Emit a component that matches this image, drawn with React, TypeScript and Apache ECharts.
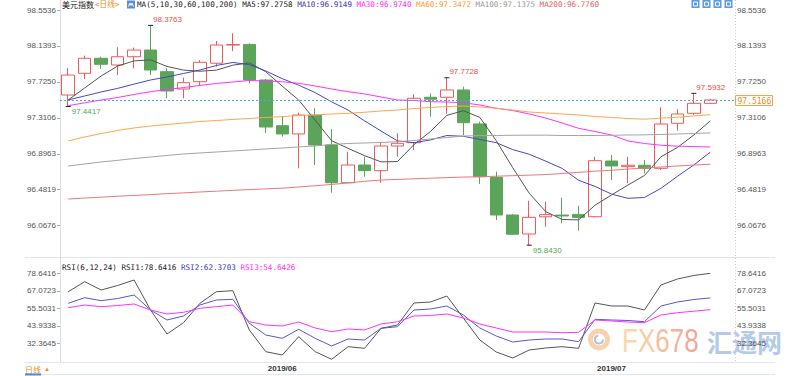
import React, { useEffect, useRef } from 'react';
import * as echarts from 'echarts';

const dates = [
  '2019/05/15', '2019/05/16', '2019/05/17', '2019/05/20', '2019/05/21', '2019/05/22', '2019/05/23', '2019/05/24',
  '2019/05/27', '2019/05/28', '2019/05/29', '2019/05/30', '2019/05/31',
  '2019/06/03', '2019/06/04', '2019/06/05', '2019/06/06', '2019/06/07', '2019/06/10', '2019/06/11', '2019/06/12',
  '2019/06/13', '2019/06/14', '2019/06/17', '2019/06/18', '2019/06/19', '2019/06/20', '2019/06/21', '2019/06/24',
  '2019/06/25', '2019/06/26', '2019/06/27', '2019/06/28',
  '2019/07/01', '2019/07/02', '2019/07/03', '2019/07/04', '2019/07/05', '2019/07/08', '2019/07/09',
  '',
];

const opens = [97.574, 97.824, 97.997, 97.92, 98.015, 98.092, 97.843, 97.643, 97.727, 97.94,
  98.15, 98.157, 97.747, 97.22, 97.125, 97.343, 96.998, 96.563, 96.767, 96.702,
  96.986, 97.024, 97.548, 97.548, 97.632, 97.24, 96.625, 96.191, 95.972, 96.17,
  96.19, 96.198, 96.171, 96.813, 96.748, 96.764, 96.729, 97.248, 97.363, 97.478];
const closes = [97.804, 97.997, 97.928, 98.015, 98.092, 97.862, 97.62, 97.716, 97.951, 98.15,
  98.155, 97.747, 97.205, 97.125, 97.343, 96.998, 96.563, 96.767, 96.702, 96.986,
  97.017, 97.536, 97.525, 97.632, 97.255, 96.632, 96.191, 95.969, 96.164, 96.195,
  96.18, 96.163, 96.817, 96.756, 96.764, 96.729, 97.24, 97.355, 97.478, 97.5166];
const lows = [97.4417, 97.758, 97.874, 97.804, 97.882, 97.804, 97.536, 97.536, 97.69, 97.9,
  98.08, 97.709, 97.136, 97.094, 96.729, 96.767, 96.448, 96.563, 96.632, 96.563,
  96.863, 96.94, 97.324, 97.36, 97.113, 96.548, 96.133, 95.96, 95.843, 96.056,
  96.095, 96.01, 96.164, 96.594, 96.556, 96.671, 96.71, 97.163, 97.344, 97.47];
const highs = [97.885, 98.027, 98.015, 98.124, 98.12, 98.3763, 97.882, 97.774, 97.977, 98.196,
  98.285, 98.17, 97.76, 97.332, 97.37, 97.42, 97.18, 96.92, 96.863, 97.024,
  97.133, 97.582, 97.594, 97.7728, 97.67, 97.267, 96.69, 96.2, 96.356, 96.344,
  96.39, 96.295, 96.863, 96.882, 96.863, 96.825, 97.432, 97.41, 97.5932, 97.53];

const ma5 = [97.517, 97.655, 97.793, 97.908, 97.967, 97.979, 97.903, 97.861, 97.848, 97.86,
  97.918, 97.944, 97.842, 97.676, 97.515, 97.284, 97.047, 96.959, 96.875, 96.803,
  96.807, 97.002, 97.153, 97.339, 97.393, 97.316, 97.047, 96.736, 96.442, 96.23,
  96.14, 96.134, 96.304, 96.422, 96.536, 96.646, 96.861, 96.969, 97.113, 97.2758];
const ma10 = [97.517, 97.563, 97.609, 97.65, 97.7, 97.747, 97.782, 97.822, 97.862, 97.914,
  97.949, 97.924, 97.851, 97.762, 97.687, 97.601, 97.495, 97.4, 97.276, 97.159,
  97.045, 97.024, 97.056, 97.107, 97.098, 97.062, 97.024, 96.945, 96.891, 96.812,
  96.728, 96.591, 96.52, 96.432, 96.383, 96.393, 96.498, 96.636, 96.768, 96.9149];
const ma30 = [97.451, 97.484, 97.516, 97.545, 97.58, 97.612, 97.637, 97.66, 97.684, 97.707,
  97.724, 97.741, 97.735, 97.727, 97.709, 97.678, 97.643, 97.612, 97.586, 97.551,
  97.516, 97.511, 97.497, 97.493, 97.485, 97.459, 97.421, 97.395, 97.355, 97.309,
  97.251, 97.19, 97.153, 97.113, 97.044, 97.015, 96.995, 96.985, 96.979, 96.974];
const ma60 = [97.044, 97.09, 97.13, 97.165, 97.194, 97.217, 97.234, 97.251, 97.269, 97.28,
  97.292, 97.303, 97.315, 97.324, 97.338, 97.344, 97.355, 97.363, 97.375, 97.39,
  97.401, 97.418, 97.43, 97.441, 97.447, 97.436, 97.421, 97.401, 97.378, 97.367,
  97.355, 97.344, 97.326, 97.315, 97.303, 97.295, 97.307, 97.317, 97.332, 97.3472];
const ma100 = [96.756, 96.779, 96.802, 96.821, 96.842, 96.859, 96.877, 96.894, 96.906, 96.917,
  96.929, 96.94, 96.952, 96.963, 96.975, 96.986, 97.004, 97.015, 97.021, 97.027,
  97.036, 97.05, 97.067, 97.084, 97.101, 97.107, 97.107, 97.11, 97.111, 97.111,
  97.107, 97.107, 97.107, 97.11, 97.113, 97.115, 97.119, 97.125, 97.13, 97.1375];
const ma200 = [96.375, 96.387, 96.396, 96.407, 96.416, 96.426, 96.437, 96.446, 96.456, 96.465,
  96.475, 96.484, 96.492, 96.5, 96.514, 96.528, 96.543, 96.56, 96.579, 96.594,
  96.601, 96.608, 96.615, 96.622, 96.628, 96.632, 96.638, 96.644, 96.65, 96.657,
  96.669, 96.683, 96.696, 96.707, 96.72, 96.733, 96.744, 96.756, 96.767, 96.776];

const rsi1 = [66.48, 73.09, 67.6, 70.58, 74.21, 54.38, 38.51, 45.98, 58.81, 66.48,
  67.14, 41.16, 26.81, 24.63, 36.73, 26.81, 21.79, 30.12, 29.06, 42.28,
  44.46, 59.01, 59.67, 63.63, 49.09, 34.54, 26.61, 22.64, 27.93, 29.26,
  30.12, 29.06, 59.01, 57.02, 57.02, 54.38, 70.91, 74.87, 77.19, 78.6416];
const rsi2 = [58.81, 62.51, 60.53, 61.98, 64.29, 54.38, 47.77, 50.41, 57.68, 60.99,
  61.45, 45.58, 37.85, 35.67, 41.62, 35.67, 30.58, 35.21, 34.54, 42.28,
  43.34, 54.38, 55.04, 57.02, 51.07, 42.48, 37.19, 33.22, 34.54, 35.21,
  35.21, 33.42, 48.23, 47.77, 47.44, 46.64, 57.02, 59.67, 61.32, 62.3703];
const rsi3 = [55.9, 57.68, 56.56, 57.35, 58.34, 54.38, 51.73, 52.86, 55.5, 56.56,
  57.68, 46.64, 44.46, 43.8, 46.44, 42.48, 40.03, 41.82, 41.16, 45.12,
  46.64, 50.41, 50.74, 51.73, 49.09, 45.12, 42.48, 39.83, 39.83, 39.83,
  39.37, 39.64, 47.77, 47.11, 46.44, 45.98, 51.07, 52.59, 53.58, 54.6426];

const mainTicks = { min: 95.653212, max: 98.553648, interval: 0.414348 };
const rsiTicks = { min: 20.79522, max: 78.64162, interval: 11.56928 };
const lastPrice = 97.5166;
const highMarks = [{ idx: 5, value: 98.3763 }, { idx: 23, value: 97.7728 }, { idx: 38, value: 97.5932 }];
const lowMarks = [{ idx: 0, value: 97.4417 }, { idx: 28, value: 95.843 }];

const titleItems = [
  { text: 'MA(5,10,30,60,100,200)', color: '#222' },
  { text: 'MA5:97.2758', color: '#222' },
  { text: 'MA10:96.9149', color: '#3a3ab8' },
  { text: 'MA30:96.9740', color: '#ff2bff' },
  { text: 'MA60:97.3472', color: '#ff9a2e' },
  { text: 'MA100:97.1375', color: '#999999' },
  { text: 'MA200:96.7760', color: '#e06060' },
];
const rsiItems = [
  { text: 'RSI(6,12,24) RSI1:78.6416', color: '#222' },
  { text: 'RSI2:62.3703', color: '#3a3ab8' },
  { text: 'RSI3:54.6426', color: '#ff2bff' },
];

const SANS = '"Liberation Sans", Arial, sans-serif';
const MONO = '"DejaVu Sans Mono", "Noto Sans CJK SC", monospace';
const CJK = '"Noto Sans CJK SC", sans-serif';
const MONO_SIZE = 7.6;
const CHAR_W = MONO_SIZE * 0.602;

const UP = '#ee5a5a';
const DOWN = '#5aa55a';

function fmt4(v: number) {
  return (v + 1e-7).toFixed(4);
}

function txt(x: number, y: number, s: string, fill: string, fontFamily: string, fontSize: number, z = 20) {
  return {
    type: 'text', x, y, z, silent: true,
    style: { text: s, fill, fontFamily, fontSize, verticalAlign: 'middle', align: 'left' },
  };
}

function legendRow(startX: number, y: number, items: { text: string; color: string }[]) {
  let cursor = 0;
  return items.map((it) => {
    const el = txt(startX + cursor * CHAR_W, y, it.text, it.color, MONO, MONO_SIZE);
    cursor += it.text.length + 1;
    return el;
  });
}

export default function App() {
  const ref = useRef<HTMLDivElement>(null);
  useEffect(() => {
    const chart = echarts.init(ref.current!, null, { renderer: 'svg' });
    const monthStart = dates.map((d, i) => i > 0 && d !== '' && d.slice(0, 7) !== dates[i - 1].slice(0, 7));
    const candleData: any[] = dates.map((d, i) => (i < opens.length ? [opens[i], closes[i], lows[i], highs[i]] : '-'));

    const lineSeries = (name: string, data: number[], color: string, xi: number, yi: number) => ({
      name, type: 'line', data, xAxisIndex: xi, yAxisIndex: yi, showSymbol: false, symbol: 'none',
      lineStyle: { width: 1, color }, itemStyle: { color }, silent: true, z: 3,
    });

    const markData: any[] = [
      ...highMarks.map((m) => ({
        coord: [dates[m.idx], m.value], value: m.value,
        label: { color: '#e05050', position: [5, -5.5] },
      })),
      ...lowMarks.map((m) => ({
        coord: [dates[m.idx], m.value], value: m.value,
        label: { color: '#5aa55a', position: [6, 6] },
      })),
    ];

    const yLabel = (margin: number) => ({
      formatter: fmt4, showMinLabel: false, showMaxLabel: true, margin, fontSize: 8, color: '#555', fontFamily: SANS,
    });

    const gline = (x1: number, y1: number, x2: number, y2: number, stroke: string, lineDash?: number[], z = 1) => ({
      type: 'line', z, silent: true,
      shape: { x1, y1, x2, y2 },
      style: { stroke, lineWidth: 1, lineDash },
    });

    const icons = [691.5, 702.5, 713.5, 724.5].map((x) => ({
      type: 'group', x, y: 0, z: 20, silent: true,
      children: [
        { type: 'rect', shape: { x: 0, y: 0, width: 8, height: 8 }, style: { fill: '#5b9be0' } },
        { type: 'rect', shape: { x: 2, y: 2, width: 4, height: 4 }, style: { fill: 'none', stroke: '#ffffff', lineWidth: 1 } },
      ],
    }));

    const wm = [
      { x: 622, s: 'F', c: '#fad3a0' },
      { x: 637.9, s: 'X', c: '#f9c598' },
      { x: 655.2, s: '6', c: '#f7b590' },
      { x: 669.7, s: '7', c: '#f5a78b' },
      { x: 684.2, s: '8', c: '#f39b87' },
    ].map((l) => ({
      type: 'text', x: l.x, y: 340.5, scaleY: 1.3, z: 0, silent: true,
      style: { text: l.s, fill: l.c, fontFamily: SANS, fontSize: 26, verticalAlign: 'middle', align: 'left', opacity: 0.9 },
    }));

    const baseGraphics: any[] = [
      gline(60.5, 0, 60.5, 362.5, '#d8dee6'),
      gline(735.5, 0, 735.5, 362.5, '#c8ccd2', [1, 2]),
      gline(25, 257.5, 775, 257.5, '#e3e7ec'),
      gline(25, 362.5, 775, 362.5, '#e3e7ec'),
      gline(25, 374.5, 775, 374.5, '#e3e7ec'),
      {
        type: 'ring', z: 0, silent: true, shape: { cx: 599, cy: 339.5, r: 11, r0: 6 },
        style: { fill: '#f8c9a0', opacity: 0.85 },
      },
      {
        type: 'arc', z: 0, silent: true, shape: { cx: 599, cy: 339.5, r: 4, startAngle: 0, endAngle: 4.5 },
        style: { stroke: '#a9c3e8', lineWidth: 2, fill: 'none' },
      },
      ...wm,
      {
        type: 'text', x: 707, y: 340.5, z: 0, silent: true,
        style: { text: '汇通网', fill: '#a9c3e8', fontFamily: CJK, fontSize: 25, fontWeight: 'bold', verticalAlign: 'middle', align: 'left', opacity: 0.9 },
      },
      txt(62, 4.5, '美元指数', '#222', CJK, 8),
      txt(95, 4.5, '<日线>', '#f08a1c', MONO, MONO_SIZE),
      {
        type: 'group', x: 127, y: 0.5, z: 20, silent: true,
        children: [
          { type: 'rect', shape: { x: 0, y: 0, width: 8, height: 8 }, style: { fill: '#5b8fd9' } },
          { type: 'polyline', shape: { points: [[1.5, 6], [3, 2.5], [4, 5], [5, 2.5], [6.5, 6]] }, style: { stroke: '#fff', lineWidth: 1, fill: 'none' } },
        ],
      },
      ...legendRow(137, 4.5, titleItems),
      ...icons,
      ...legendRow(62, 267, rsiItems),
      txt(25, 369, '日线', '#f08a1c', CJK, 8),
      txt(44, 369, '▲', '#f08a1c', SANS, 6),
      { type: 'rect', z: 20, silent: true, shape: { x: 25, y: 373.5, width: 16, height: 2 }, style: { fill: '#3d8fe0' } },
    ];

    const option: any = {
      animation: false,
      backgroundColor: '#ffffff',
      textStyle: { fontFamily: SANS },
      grid: [
        { left: 60, width: 675, top: 10, height: 251.65 },
        { left: 60, width: 675, top: 273.3, height: 87.5 },
      ],
      xAxis: [
        {
          type: 'category', gridIndex: 0, data: dates, boundaryGap: true,
          axisLine: { show: false }, axisTick: { show: false }, axisLabel: { show: false }, splitLine: { show: false },
        },
        {
          type: 'category', gridIndex: 1, data: dates, boundaryGap: true,
          axisLine: { show: false }, axisTick: { show: false }, splitLine: { show: false },
          axisLabel: {
            interval: (i: number) => monthStart[i],
            formatter: (v: string) => v.slice(0, 7),
            margin: 4, fontSize: 8, fontWeight: 'bold', color: '#333', fontFamily: SANS, hideOverlap: false,
          },
        },
      ],
      yAxis: [
        {
          type: 'value', gridIndex: 0, position: 'left', ...mainTicks,
          axisLine: { show: false }, splitLine: { show: false },
          axisTick: { show: true, length: 3, lineStyle: { color: '#aaa' } },
          axisLabel: yLabel(4),
        },
        {
          type: 'value', gridIndex: 0, position: 'right', ...mainTicks,
          axisLine: { show: false }, splitLine: { show: false }, axisTick: { show: false },
          axisLabel: yLabel(2),
        },
        {
          type: 'value', gridIndex: 1, position: 'left', ...rsiTicks,
          axisLine: { show: false }, splitLine: { show: false },
          axisTick: { show: true, length: 3, lineStyle: { color: '#aaa' } },
          axisLabel: yLabel(4),
        },
        {
          type: 'value', gridIndex: 1, position: 'right', ...rsiTicks,
          axisLine: { show: false }, splitLine: { show: false }, axisTick: { show: false },
          axisLabel: yLabel(2),
        },
      ],
      series: [
        {
          name: 'K', type: 'candlestick', xAxisIndex: 0, yAxisIndex: 0, data: candleData, barWidth: 13, silent: true, z: 2,
          itemStyle: { color: '#ffffff', color0: DOWN, borderColor: UP, borderColor0: DOWN, borderWidth: 1 },
          markPoint: {
            silent: true, symbol: 'rect', symbolSize: [5, 1], itemStyle: { color: '#222' },
            label: {
              show: true, formatter: (p: any) => fmt4(p.value), fontSize: 8, fontFamily: SANS,
              align: 'left', verticalAlign: 'middle',
            },
            data: markData,
          },
        },
        lineSeries('MA5', ma5, '#555555', 0, 0),
        lineSeries('MA10', ma10, '#4848c0', 0, 0),
        lineSeries('MA30', ma30, '#ff33ff', 0, 0),
        lineSeries('MA60', ma60, '#ffa64d', 0, 0),
        lineSeries('MA100', ma100, '#a4a4a4', 0, 0),
        lineSeries('MA200', ma200, '#ee7777', 0, 0),
        lineSeries('RSI1', rsi1, '#555555', 1, 2),
        lineSeries('RSI2', rsi2, '#5858c8', 1, 2),
        lineSeries('RSI3', rsi3, '#ff33ff', 1, 2),
      ],
      graphic: baseGraphics,
    };
    chart.setOption(option);

    // current-price line and tag, positioned through the value axis scale
    const py = Math.round(chart.convertToPixel({ yAxisIndex: 0 }, lastPrice) as number) + 0.5;
    const priceGraphics = [
      gline(60, py, 735, py, '#4da3f5', [2, 2], 15),
      {
        type: 'rect', z: 21, silent: true,
        shape: { x: 735.5, y: py - 5, width: 37, height: 10 },
        style: { fill: '#ffffff', stroke: '#f5a34a', lineWidth: 1 },
      },
      txt(737.5, py + 0.5, fmt4(lastPrice), '#f08a1c', MONO, 8, 22),
    ];
    chart.setOption({ graphic: [...baseGraphics, ...priceGraphics] });
    return () => chart.dispose();
  }, []);
  return (
    <div
      ref={ref}
      style={{ position: 'fixed', left: 0, top: 0, width: 800, height: 376, background: '#fff' }}
    />
  );
}
